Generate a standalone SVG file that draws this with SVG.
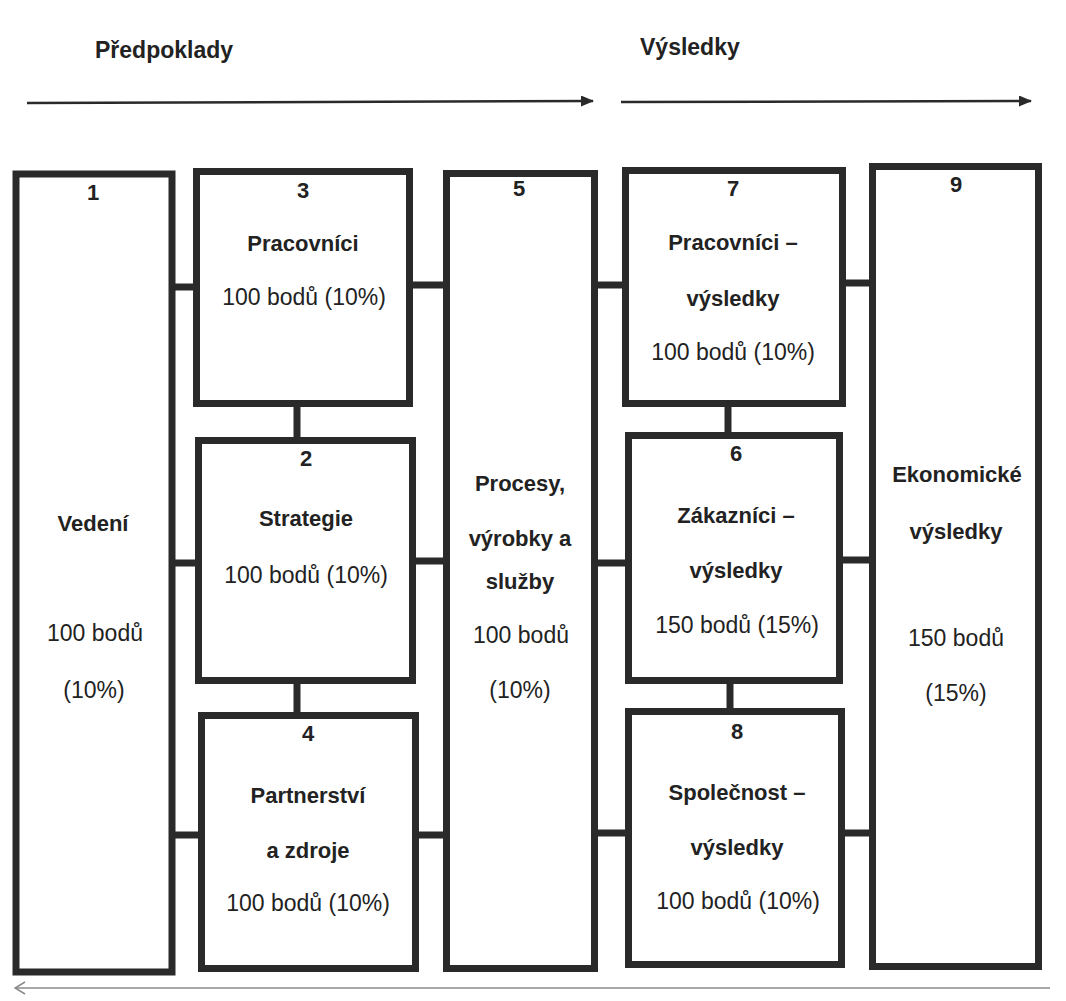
<svg xmlns="http://www.w3.org/2000/svg" width="1066" height="1001" viewBox="0 0 1066 1001">
  <style>
    .box { fill: #ffffff; stroke: #2a2a2a; stroke-width: 7; }
    .link { stroke: #2a2a2a; stroke-width: 7; fill: none; }
    .flow { stroke: #2a2a2a; stroke-width: 2.5; fill: none; }
    .back { stroke: #8a8a8a; stroke-width: 1.5; fill: none; }
    text { font-family: "Liberation Sans", Arial, sans-serif; font-size: 23px; fill: #222222; text-anchor: middle; dominant-baseline: central; }
    .b { font-weight: bold; font-size: 22px; }
    .head { text-anchor: start; font-size: 23px; }
  </style>
  <defs>
    <marker id="tip" viewBox="0 0 13 11" refX="12" refY="5.5" markerWidth="13" markerHeight="11" markerUnits="userSpaceOnUse" orient="auto">
      <path d="M0,0 L13,5.5 L0,11 Z" fill="#2a2a2a"/>
    </marker>
    <marker id="open" viewBox="0 0 12 14" refX="11" refY="7" markerWidth="12" markerHeight="14" markerUnits="userSpaceOnUse" orient="auto">
      <path d="M1,1 L11,7 L1,13" fill="none" stroke="#8a8a8a" stroke-width="1.5"/>
    </marker>
  </defs>

  <rect x="0" y="0" width="1066" height="1001" fill="#ffffff"/>

  <!-- headings and flow arrows -->
  <g id="headings">
    <text class="b head" x="95" y="50">Předpoklady</text>
    <text class="b head" x="640" y="47">Výsledky</text>
  </g>
  <g id="flow-arrows">
    <line class="flow" x1="27" y1="103" x2="593" y2="101" marker-end="url(#tip)"/>
    <line class="flow" x1="621" y1="102" x2="1031" y2="101" marker-end="url(#tip)"/>
    <line class="back" x1="1050" y1="988" x2="15" y2="988" marker-end="url(#open)"/>
  </g>

  <!-- connectors between the criteria boxes -->
  <g id="connectors">
    <line class="link" x1="172" y1="287" x2="197" y2="287"/>
    <line class="link" x1="172" y1="563" x2="199" y2="563"/>
    <line class="link" x1="172" y1="835" x2="202" y2="835"/>
    <line class="link" x1="409" y1="285" x2="447" y2="285"/>
    <line class="link" x1="412" y1="561" x2="447" y2="561"/>
    <line class="link" x1="415" y1="835" x2="447" y2="835"/>
    <line class="link" x1="297" y1="403" x2="297" y2="441"/>
    <line class="link" x1="297" y1="680" x2="297" y2="716"/>
    <line class="link" x1="594" y1="285" x2="626" y2="285"/>
    <line class="link" x1="594" y1="563" x2="629" y2="563"/>
    <line class="link" x1="594" y1="833" x2="629" y2="833"/>
    <line class="link" x1="842" y1="283" x2="873" y2="283"/>
    <line class="link" x1="839" y1="560" x2="873" y2="560"/>
    <line class="link" x1="841" y1="833" x2="873" y2="833"/>
    <line class="link" x1="728" y1="403" x2="728" y2="436"/>
    <line class="link" x1="730" y1="680" x2="730" y2="712"/>
  </g>

  <g id="n1">
    <rect class="box" x="16" y="174" width="156" height="798"/>
    <text class="b" x="93" y="192">1</text>
    <text class="b" x="93" y="523">Vedení</text>
    <text x="95" y="633">100 bodů</text>
    <text x="94" y="690">(10%)</text>
  </g>

  <g id="n3">
    <rect class="box" x="196.5" y="171.5" width="213" height="232"/>
    <text class="b" x="303" y="190">3</text>
    <text class="b" x="303" y="243">Pracovníci</text>
    <text x="304" y="297">100 bodů (10%)</text>
  </g>

  <g id="n2">
    <rect class="box" x="198.5" y="440.5" width="214" height="240"/>
    <text class="b" x="306" y="458">2</text>
    <text class="b" x="306" y="518">Strategie</text>
    <text x="306" y="575">100 bodů (10%)</text>
  </g>

  <g id="n4">
    <rect class="box" x="201.5" y="715.5" width="214" height="253"/>
    <text class="b" x="308" y="733">4</text>
    <text class="b" x="308" y="795">Partnerství</text>
    <text class="b" x="308" y="850">a zdroje</text>
    <text x="308" y="903">100 bodů (10%)</text>
  </g>

  <g id="n5">
    <rect class="box" x="446.5" y="173.5" width="148" height="795"/>
    <text class="b" x="519" y="188">5</text>
    <text class="b" x="520" y="483">Procesy,</text>
    <text class="b" x="520" y="538">výrobky a</text>
    <text class="b" x="520" y="581">služby</text>
    <text x="521" y="635">100 bodů</text>
    <text x="520" y="690">(10%)</text>
  </g>

  <g id="n7">
    <rect class="box" x="625.5" y="170.5" width="217" height="233"/>
    <text class="b" x="733" y="188">7</text>
    <text class="b" x="733" y="242">Pracovníci –</text>
    <text class="b" x="733" y="298">výsledky</text>
    <text x="733" y="352">100 bodů (10%)</text>
  </g>

  <g id="n6">
    <rect class="box" x="628.5" y="435.5" width="211" height="245"/>
    <text class="b" x="736" y="453">6</text>
    <text class="b" x="736" y="515">Zákazníci –</text>
    <text class="b" x="736" y="570">výsledky</text>
    <text x="737" y="625">150 bodů (15%)</text>
  </g>

  <g id="n8">
    <rect class="box" x="628.5" y="711.5" width="213" height="253"/>
    <text class="b" x="737" y="731">8</text>
    <text class="b" x="737" y="792">Společnost –</text>
    <text class="b" x="737" y="847">výsledky</text>
    <text x="738" y="901">100 bodů (10%)</text>
  </g>

  <g id="n9">
    <rect class="box" x="872.5" y="166.5" width="166" height="800"/>
    <text class="b" x="956" y="184">9</text>
    <text class="b" x="957" y="474">Ekonomické</text>
    <text class="b" x="956" y="531">výsledky</text>
    <text x="956" y="638">150 bodů</text>
    <text x="956" y="693">(15%)</text>
  </g>
</svg>
